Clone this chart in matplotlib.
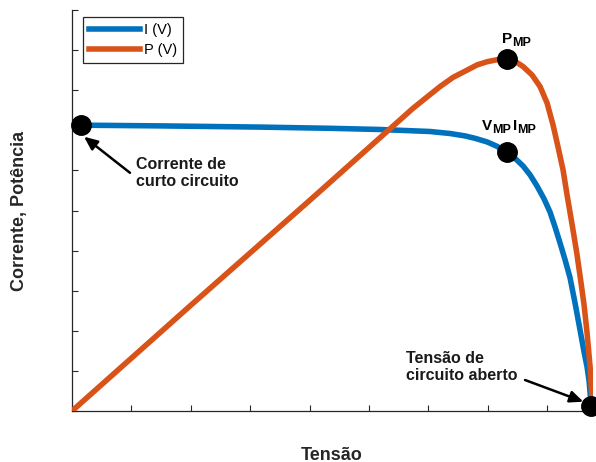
import matplotlib
matplotlib.use("Agg")
import matplotlib.pyplot as plt

plt.rcParams['font.family'] = ['Liberation Sans', 'DejaVu Sans']

# I-V curve of the cell (voltage, current)
v_i = [0.0, 1.481, 3.165, 4.343, 5.185, 5.690, 6.027, 6.364, 6.616, 6.785,
       6.987, 7.155, 7.323, 7.458, 7.593, 7.710, 7.828, 7.946, 8.047, 8.131,
       8.215, 8.300, 8.384, 8.468, 8.552, 8.620, 8.670, 8.704, 8.721, 8.737]
i_v = [7.13, 7.11, 7.08, 7.05, 7.02, 6.99, 6.97, 6.92, 6.86, 6.80,
       6.71, 6.60, 6.45, 6.30, 6.11, 5.89, 5.61, 5.29, 4.96, 4.59,
       4.19, 3.77, 3.32, 2.69, 2.02, 1.47, 1.10, 0.75, 0.45, 0.12]

# P-V curve of the cell (voltage, power)
v_p = [0.0, 1.987, 4.007, 5.741, 5.976, 6.195, 6.414, 6.650, 6.818, 6.987,
       7.155, 7.323, 7.458, 7.593, 7.744, 7.879, 7.997, 8.098, 8.182, 8.266,
       8.333, 8.434, 8.502, 8.569, 8.620, 8.670, 8.721, 8.754, 8.754]
p_v = [0.0, 2.62, 5.26, 7.55, 7.83, 8.09, 8.32, 8.50, 8.63, 8.71,
       8.76, 8.78, 8.72, 8.59, 8.38, 8.09, 7.68, 7.13, 6.58, 6.01,
       5.39, 4.51, 3.89, 3.19, 2.64, 1.95, 1.10, 0.27, 0.12]

# Characteristic points
isc_point = (0.146, 7.13)
mpp_current = (7.323, 6.45)
mpp_power = (7.323, 8.78)
voc_point = (8.74, 0.12)

legend_labels = ['I (V)', 'P (V)']
x_label = 'Tensão'
y_label = 'Corrente, Potência'

blue = '#0072BD'
orange = '#D95319'
axis_gray = '#262626'

fig = plt.figure(figsize=(5.96, 4.62), dpi=100)
ax = fig.add_axes([72 / 596, 51 / 462, 521 / 596, 401 / 462])

ax.plot(v_i, i_v, color=blue, lw=4, solid_joinstyle='round',
        label=legend_labels[0], zorder=2)
ax.plot(v_p, p_v, color=orange, lw=4, solid_joinstyle='round',
        label=legend_labels[1], zorder=3)

for pt in (isc_point, mpp_current, mpp_power, voc_point):
    ax.plot(pt[0], pt[1], 'o', color='black', ms=14, zorder=5, clip_on=False)

ax.set_xlim(0, 8.77)
ax.set_ylim(0, 10)
ax.set_xticks(range(0, 9))
ax.set_yticks(range(0, 11))
ax.set_xticklabels([])
ax.set_yticklabels([])
ax.tick_params(direction='in', length=4, width=0.8, color=axis_gray)
for side in ('top', 'right'):
    ax.spines[side].set_visible(False)
for side in ('left', 'bottom'):
    ax.spines[side].set_color(axis_gray)
    ax.spines[side].set_linewidth(0.9)

fig.text(332 / 596, 1 - 455 / 462, x_label, ha='center', va='center',
         fontsize=13, fontweight='bold', color=axis_gray)
fig.text(20 / 596, 1 - 211 / 462, y_label, ha='center', va='center',
         rotation=90, fontsize=13, fontweight='bold', color=axis_gray)

leg = ax.legend(loc='upper left', bbox_to_anchor=(0.0217, 0.982), borderaxespad=0,
                fontsize=10.5, handlelength=3.5, handletextpad=0.25, borderpad=0.4,
                labelspacing=0.4, fancybox=False, framealpha=1)
leg.get_frame().set_edgecolor(axis_gray)
leg.get_frame().set_linewidth(0.9)


def label_with_subscript(x_main, x_sub, y_main, y_sub, main, sub):
    ax.text(x_main, y_main, main, fontsize=11, fontweight='bold',
            ha='left', va='baseline')
    ax.text(x_sub, y_sub, sub, fontsize=9, fontweight='bold',
            ha='left', va='baseline')


# Maximum power point labels
label_with_subscript(7.237, 7.405, 9.17, 9.10, 'P', 'MP')
label_with_subscript(6.897, 7.071, 7.007, 6.933, 'V', 'MP')
label_with_subscript(7.419, 7.486, 7.007, 6.933, 'I', 'MP')

arrow_style = dict(arrowstyle='-|>,head_length=0.8,head_width=0.35',
                   color='black', lw=1.8, shrinkA=0, shrinkB=0)

ax.text(1.077, 5.94, 'Corrente de\ncurto circuito', fontsize=11.5,
        fontweight='bold', ha='left', va='center', color='#1a1a1a',
        linespacing=1.15)
ax.annotate('', xy=(0.202, 6.84), xytext=(0.976, 5.94), arrowprops=arrow_style)

ax.text(5.623, 1.10, 'Tensão de\ncircuito aberto', fontsize=11.5,
        fontweight='bold', ha='left', va='center', color='#1a1a1a',
        linespacing=1.15)
ax.annotate('', xy=(8.608, 0.232), xytext=(7.626, 0.773), arrowprops=arrow_style)

fig.savefig('out.png', dpi=100)
